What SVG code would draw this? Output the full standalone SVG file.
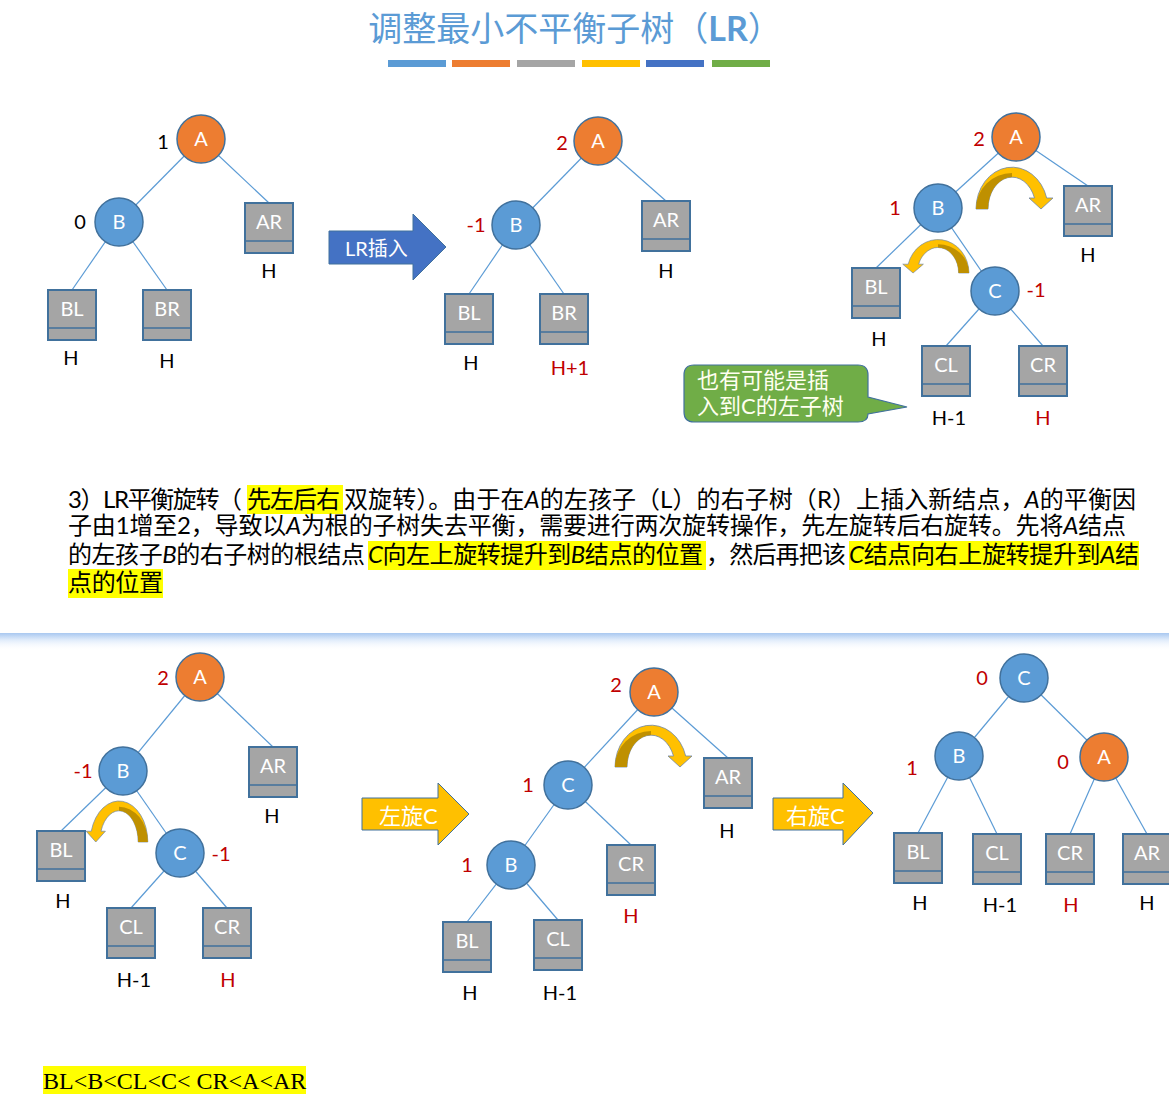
<svg xmlns="http://www.w3.org/2000/svg" xmlns:xlink="http://www.w3.org/1999/xlink" width="1169" height="1107" viewBox="0 0 1169 1107">
<style>
.edges line{stroke:#5B9BD5;stroke-width:1.2}
.node circle{stroke:#41719C;stroke-width:1.5}
.blue circle{fill:#5B9BD5}
.orange circle{fill:#ED7D31}
.box rect{fill:#A5A5A5;stroke:#41719C;stroke-width:2}
.box line{stroke:#41719C;stroke-width:1.5}
.node text.l,.box text.l{font-family:Lato,"Noto Sans",sans-serif;font-size:20px;fill:#fff;text-anchor:middle}
.bf{font-family:Lato,"Noto Sans",sans-serif;font-size:20px;text-anchor:middle}
.red{fill:#C00000}
.blk{fill:#000}
.para{font-family:Lato,"Noto Sans CJK SC",sans-serif;font-size:24px;fill:#000}
.hl{fill:#FFFF00}
.it{font-style:italic}
.curv{fill:#FFC000;stroke:#6F87A6;stroke-width:0.8}
.curvd{fill:#BF9000}
.barrow{stroke:#41719C;stroke-width:1}
.atext{font-family:Lato,"Noto Sans CJK SC",sans-serif;fill:#fff}
</style>
<defs>
<path id="curvp" d="M -36,0 A 36,42 0 0 1 34.7,-11 L 41,-11 L 29,0 L 17,-11 L 22.5,-11 A 24,32 0 0 0 -24,0 Z"/>
<path id="curvdp" d="M -36,0 A 36,36 0 0 1 0,-36 L 0,-32 A 24,32 0 0 0 -24,0 Z"/>
<linearGradient id="sep" x1="0" y1="0" x2="0" y2="1">
<stop offset="0" stop-color="#A9C8F0"/>
<stop offset="0.35" stop-color="#DCE9FA"/>
<stop offset="1" stop-color="#FFFFFF" stop-opacity="0"/>
</linearGradient>
</defs>
<rect width="1169" height="1107" fill="#fff"/>

<!-- Title -->
<g id="title">
<text x="575" y="41" text-anchor="middle" font-family="'Noto Sans CJK SC',sans-serif" font-size="34" fill="#5B9BD5">调整最小不平衡子树（<tspan font-weight="bold" font-family="Lato,'Noto Sans',sans-serif">LR</tspan>）</text>
<rect x="388" y="60" width="58" height="7" fill="#5B9BD5"/>
<rect x="452" y="60" width="58" height="7" fill="#ED7D31"/>
<rect x="517" y="60" width="58" height="7" fill="#A5A5A5"/>
<rect x="582" y="60" width="58" height="7" fill="#FFC000"/>
<rect x="646" y="60" width="58" height="7" fill="#4472C4"/>
<rect x="712" y="60" width="58" height="7" fill="#70AD47"/>
</g>

<!-- Connectors -->
<g id="connectors" class="edges">
<line x1="201" y1="139" x2="119" y2="222"/>
<line x1="201" y1="139" x2="269" y2="203"/>
<line x1="119" y1="222" x2="72" y2="290"/>
<line x1="119" y1="222" x2="167" y2="290"/>

<line x1="598" y1="141" x2="516" y2="225"/>
<line x1="598" y1="141" x2="666" y2="201"/>
<line x1="516" y1="225" x2="469" y2="294"/>
<line x1="516" y1="225" x2="564" y2="294"/>

<line x1="1016" y1="137" x2="938" y2="208"/>
<line x1="1016" y1="137" x2="1088" y2="186"/>
<line x1="938" y1="208" x2="876" y2="268"/>
<line x1="938" y1="208" x2="995" y2="291"/>
<line x1="995" y1="291" x2="946" y2="346"/>
<line x1="995" y1="291" x2="1043" y2="346"/>

<line x1="200" y1="677" x2="123" y2="771"/>
<line x1="200" y1="677" x2="273" y2="747"/>
<line x1="123" y1="771" x2="61" y2="831"/>
<line x1="123" y1="771" x2="180" y2="853"/>
<line x1="180" y1="853" x2="131" y2="908"/>
<line x1="180" y1="853" x2="227" y2="908"/>

<line x1="654" y1="692" x2="568" y2="785"/>
<line x1="654" y1="692" x2="728" y2="758"/>
<line x1="568" y1="785" x2="511" y2="865"/>
<line x1="568" y1="785" x2="631" y2="845"/>
<line x1="511" y1="865" x2="467" y2="922"/>
<line x1="511" y1="865" x2="558" y2="920"/>

<line x1="1024" y1="678" x2="959" y2="756"/>
<line x1="1024" y1="678" x2="1104" y2="757"/>
<line x1="959" y1="756" x2="918" y2="833"/>
<line x1="959" y1="756" x2="997" y2="834"/>
<line x1="1104" y1="757" x2="1070" y2="834"/>
<line x1="1104" y1="757" x2="1147" y2="834"/>
</g>

<!-- Tree 1 -->
<g id="t1-A" class="node orange"><circle cx="201" cy="139" r="24"/><text class="l" x="201" y="146">A</text><text class="bf blk" x="163" y="149">1</text></g>
<g id="t1-B" class="node blue"><circle cx="119" cy="222" r="24"/><text class="l" x="119" y="229">B</text><text class="bf blk" x="80" y="229">0</text></g>
<g id="t1-AR" class="box"><rect x="245" y="203" width="48" height="50"/><line x1="245" y1="241" x2="293" y2="241"/><text class="l" x="269" y="229">AR</text><text class="bf blk" x="269" y="278">H</text></g>
<g id="t1-BL" class="box"><rect x="48" y="290" width="48" height="50"/><line x1="48" y1="328" x2="96" y2="328"/><text class="l" x="72" y="316">BL</text><text class="bf blk" x="71" y="365">H</text></g>
<g id="t1-BR" class="box"><rect x="143" y="290" width="48" height="50"/><line x1="143" y1="328" x2="191" y2="328"/><text class="l" x="167" y="316">BR</text><text class="bf blk" x="167" y="368">H</text></g>

<!-- LR insert arrow -->
<g id="arrow-lr">
<polygon class="barrow" points="329,231 413,231 413,214 446,247 413,280 413,264 329,264" fill="#4472C4"/>
<text class="atext" x="345" y="256" font-size="20">LR插入</text>
</g>

<!-- Tree 2 -->
<g id="t2-A" class="node orange"><circle cx="598" cy="141" r="24"/><text class="l" x="598" y="148">A</text><text class="bf red" x="562" y="150">2</text></g>
<g id="t2-B" class="node blue"><circle cx="516" cy="225" r="24"/><text class="l" x="516" y="232">B</text><text class="bf red" x="476" y="232">-1</text></g>
<g id="t2-AR" class="box"><rect x="642" y="201" width="48" height="50"/><line x1="642" y1="239" x2="690" y2="239"/><text class="l" x="666" y="227">AR</text><text class="bf blk" x="666" y="278">H</text></g>
<g id="t2-BL" class="box"><rect x="445" y="294" width="48" height="50"/><line x1="445" y1="332" x2="493" y2="332"/><text class="l" x="469" y="320">BL</text><text class="bf blk" x="471" y="370">H</text></g>
<g id="t2-BR" class="box"><rect x="540" y="294" width="48" height="50"/><line x1="540" y1="332" x2="588" y2="332"/><text class="l" x="564" y="320">BR</text><text class="bf red" x="570" y="375">H+1</text></g>

<!-- Tree 3 -->
<g id="t3-A" class="node orange"><circle cx="1016" cy="137" r="24"/><text class="l" x="1016" y="144">A</text><text class="bf red" x="979" y="146">2</text></g>
<g id="t3-B" class="node blue"><circle cx="938" cy="208" r="24"/><text class="l" x="938" y="215">B</text><text class="bf red" x="895" y="215">1</text></g>
<g id="t3-C" class="node blue"><circle cx="995" cy="291" r="24"/><text class="l" x="995" y="298">C</text><text class="bf red" x="1036" y="297">-1</text></g>
<g id="t3-AR" class="box"><rect x="1064" y="186" width="48" height="50"/><line x1="1064" y1="224" x2="1112" y2="224"/><text class="l" x="1088" y="212">AR</text><text class="bf blk" x="1088" y="262">H</text></g>
<g id="t3-BL" class="box"><rect x="852" y="268" width="48" height="50"/><line x1="852" y1="306" x2="900" y2="306"/><text class="l" x="876" y="294">BL</text><text class="bf blk" x="879" y="346">H</text></g>
<g id="t3-CL" class="box"><rect x="922" y="346" width="48" height="50"/><line x1="922" y1="384" x2="970" y2="384"/><text class="l" x="946" y="372">CL</text><text class="bf blk" x="949" y="425">H-1</text></g>
<g id="t3-CR" class="box"><rect x="1019" y="346" width="48" height="50"/><line x1="1019" y1="384" x2="1067" y2="384"/><text class="l" x="1043" y="372">CR</text><text class="bf red" x="1043" y="425">H</text></g>
<g id="t3-rot1" transform="translate(1012,209)"><use xlink:href="#curvp" class="curv"/><use xlink:href="#curvdp" class="curvd"/></g>
<g id="t3-rot2" transform="translate(938,273) scale(-0.86,0.8)"><use xlink:href="#curvp" class="curv"/><use xlink:href="#curvdp" class="curvd"/></g>

<!-- Callout -->
<g id="callout">
<path d="M 694,365 H 858 Q 868,365 868,375 V 397 L 907,407 L 868,414 Q 868,422 858,422 H 694 Q 684,422 684,412 V 375 Q 684,365 694,365 Z" fill="#70AD47" stroke="#41719C" stroke-width="1.2"/>
<text x="697" y="388" font-family="'Noto Sans CJK SC',sans-serif" font-size="22" fill="#FFFFF0">也有可能是插</text>
<text x="697" y="414" font-family="Lato,'Noto Sans CJK SC',sans-serif" font-size="22" fill="#FFFFF0">入到C的左子树</text>
</g>

<!-- Paragraph -->
<g id="paragraph">
<rect class="hl" x="247" y="485" width="96" height="29"/>
<rect class="hl" x="368" y="541" width="338" height="29"/>
<rect class="hl" x="849" y="541" width="290" height="29"/>
<rect class="hl" x="68" y="569" width="95" height="29"/>
<text class="para" x="68" y="508" textLength="174" lengthAdjust="spacing">3）LR平衡旋转（</text>
<text class="para" x="247" y="508" textLength="93" lengthAdjust="spacing">先左后右</text>
<text class="para" x="344" y="508" textLength="792" lengthAdjust="spacing">双旋转）。由于在<tspan class="it">A</tspan>的左孩子（L）的右子树（R）上插入新结点，<tspan class="it">A</tspan>的平衡因</text>
<text class="para" x="68" y="534" textLength="1058" lengthAdjust="spacing">子由1增至2，导致以<tspan class="it">A</tspan>为根的子树失去平衡，需要进行两次旋转操作，先左旋转后右旋转。先将<tspan class="it">A</tspan>结点</text>
<text class="para" x="68" y="563" textLength="297" lengthAdjust="spacing">的左孩子<tspan class="it">B</tspan>的右子树的根结点</text>
<text class="para" x="368" y="563" textLength="335" lengthAdjust="spacing"><tspan class="it">C</tspan>向左上旋转提升到<tspan class="it">B</tspan>结点的位置</text>
<text class="para" x="706" y="563" textLength="140" lengthAdjust="spacing">，然后再把该</text>
<text class="para" x="849" y="563" textLength="290" lengthAdjust="spacing"><tspan class="it">C</tspan>结点向右上旋转提升到<tspan class="it">A</tspan>结</text>
<text class="para" x="68" y="591" textLength="95" lengthAdjust="spacing">点的位置</text>
</g>

<!-- Separator -->
<rect id="separator" x="0" y="633" width="1169" height="18" fill="url(#sep)"/>

<!-- Tree 4 -->
<g id="t4-A" class="node orange"><circle cx="200" cy="677" r="24"/><text class="l" x="200" y="684">A</text><text class="bf red" x="163" y="685">2</text></g>
<g id="t4-B" class="node blue"><circle cx="123" cy="771" r="24"/><text class="l" x="123" y="778">B</text><text class="bf red" x="83" y="778">-1</text></g>
<g id="t4-C" class="node blue"><circle cx="180" cy="853" r="24"/><text class="l" x="180" y="860">C</text><text class="bf red" x="221" y="861">-1</text></g>
<g id="t4-AR" class="box"><rect x="249" y="747" width="48" height="50"/><line x1="249" y1="785" x2="297" y2="785"/><text class="l" x="273" y="773">AR</text><text class="bf blk" x="272" y="823">H</text></g>
<g id="t4-BL" class="box"><rect x="37" y="831" width="48" height="50"/><line x1="37" y1="869" x2="85" y2="869"/><text class="l" x="61" y="857">BL</text><text class="bf blk" x="63" y="908">H</text></g>
<g id="t4-CL" class="box"><rect x="107" y="908" width="48" height="50"/><line x1="107" y1="946" x2="155" y2="946"/><text class="l" x="131" y="934">CL</text><text class="bf blk" x="134" y="987">H-1</text></g>
<g id="t4-CR" class="box"><rect x="203" y="908" width="48" height="50"/><line x1="203" y1="946" x2="251" y2="946"/><text class="l" x="227" y="934">CR</text><text class="bf red" x="228" y="987">H</text></g>
<g id="t4-rot" transform="translate(119,842) scale(-0.8,0.98)"><use xlink:href="#curvp" class="curv"/><use xlink:href="#curvdp" class="curvd"/></g>

<!-- Left rotate arrow -->
<g id="arrow-left">
<polygon class="barrow" points="362,798 438,798 438,783 469,814 438,845 438,830 362,830" fill="#FFC000"/>
<text class="atext" x="379" y="824" font-size="22">左旋C</text>
</g>

<!-- Tree 5 -->
<g id="t5-A" class="node orange"><circle cx="654" cy="692" r="24"/><text class="l" x="654" y="699">A</text><text class="bf red" x="616" y="692">2</text></g>
<g id="t5-C" class="node blue"><circle cx="568" cy="785" r="24"/><text class="l" x="568" y="792">C</text><text class="bf red" x="528" y="792">1</text></g>
<g id="t5-B" class="node blue"><circle cx="511" cy="865" r="24"/><text class="l" x="511" y="872">B</text><text class="bf red" x="467" y="872">1</text></g>
<g id="t5-AR" class="box"><rect x="704" y="758" width="48" height="50"/><line x1="704" y1="796" x2="752" y2="796"/><text class="l" x="728" y="784">AR</text><text class="bf blk" x="727" y="838">H</text></g>
<g id="t5-CR" class="box"><rect x="607" y="845" width="48" height="50"/><line x1="607" y1="883" x2="655" y2="883"/><text class="l" x="631" y="871">CR</text><text class="bf red" x="631" y="923">H</text></g>
<g id="t5-BL" class="box"><rect x="443" y="922" width="48" height="50"/><line x1="443" y1="960" x2="491" y2="960"/><text class="l" x="467" y="948">BL</text><text class="bf blk" x="470" y="1000">H</text></g>
<g id="t5-CL" class="box"><rect x="534" y="920" width="48" height="50"/><line x1="534" y1="958" x2="582" y2="958"/><text class="l" x="558" y="946">CL</text><text class="bf blk" x="560" y="1000">H-1</text></g>
<g id="t5-rot" transform="translate(651,767)"><use xlink:href="#curvp" class="curv"/><use xlink:href="#curvdp" class="curvd"/></g>

<!-- Right rotate arrow -->
<g id="arrow-right">
<polygon class="barrow" points="773,798 843,798 843,783 873,813 843,845 843,830 773,830" fill="#FFC000"/>
<text class="atext" x="786" y="824" font-size="22">右旋C</text>
</g>

<!-- Tree 6 -->
<g id="t6-C" class="node blue"><circle cx="1024" cy="678" r="24"/><text class="l" x="1024" y="685">C</text><text class="bf red" x="982" y="685">0</text></g>
<g id="t6-B" class="node blue"><circle cx="959" cy="756" r="24"/><text class="l" x="959" y="763">B</text><text class="bf red" x="912" y="775">1</text></g>
<g id="t6-A" class="node orange"><circle cx="1104" cy="757" r="24"/><text class="l" x="1104" y="764">A</text><text class="bf red" x="1063" y="769">0</text></g>
<g id="t6-BL" class="box"><rect x="894" y="833" width="48" height="50"/><line x1="894" y1="871" x2="942" y2="871"/><text class="l" x="918" y="859">BL</text><text class="bf blk" x="920" y="910">H</text></g>
<g id="t6-CL" class="box"><rect x="973" y="834" width="48" height="50"/><line x1="973" y1="872" x2="1021" y2="872"/><text class="l" x="997" y="860">CL</text><text class="bf blk" x="1000" y="912">H-1</text></g>
<g id="t6-CR" class="box"><rect x="1046" y="834" width="48" height="50"/><line x1="1046" y1="872" x2="1094" y2="872"/><text class="l" x="1070" y="860">CR</text><text class="bf red" x="1071" y="912">H</text></g>
<g id="t6-AR" class="box"><rect x="1123" y="834" width="48" height="50"/><line x1="1123" y1="872" x2="1171" y2="872"/><text class="l" x="1147" y="860">AR</text><text class="bf blk" x="1147" y="910">H</text></g>

<!-- Bottom order -->
<g id="order">
<rect class="hl" x="43" y="1066" width="263" height="28"/>
<text x="43" y="1089" font-family="'Liberation Serif',serif" font-size="24" fill="#000">BL&lt;B&lt;CL&lt;C&lt; CR&lt;A&lt;AR</text>
</g>
</svg>
